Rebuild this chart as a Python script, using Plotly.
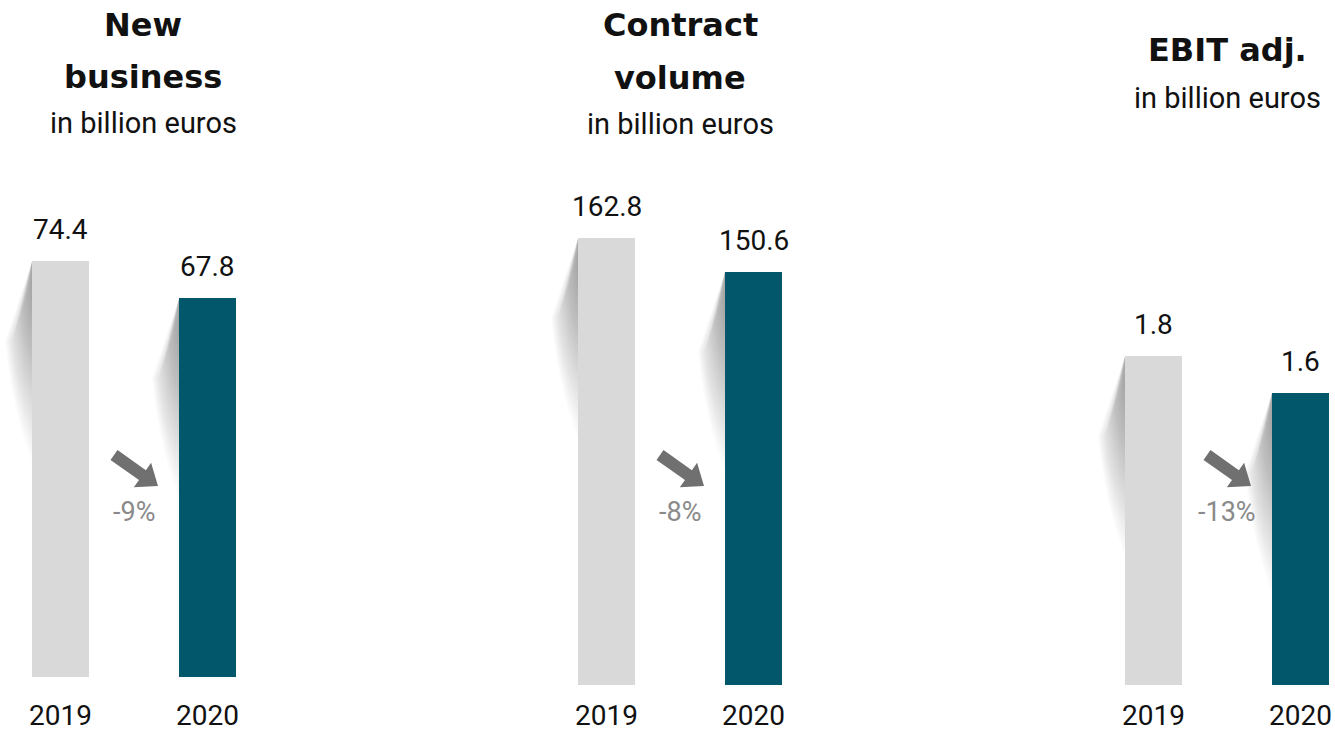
import numpy as np
import plotly.graph_objects as go

W, H = 1335, 731

# ---- data ----
titles = [["New", "business"], ["Contract", "volume"], ["EBIT adj."]]
subtitle = "in billion euros"
years = ["2019", "2020"]
values_2019 = [74.4, 162.8, 1.8]
values_2020 = [67.8, 150.6, 1.6]
value_labels_2019 = ["74.4", "162.8", "1.8"]
value_labels_2020 = ["67.8", "150.6", "1.6"]
changes = ["-9%", "-8%", "-13%"]

# ---- style ----
GRAY = "#d9d9d9"
TEAL = "#02586a"
ARROW = "#707070"
PCT = "#8a8a8a"
FONT = "Roboto"
TITLE_FONT = "DejaVu Sans"

# panel geometry (pixels)
bar_centers = [(60.5, 207.5), (606.5, 753.5), (1153.5, 1300.5)]
panel_px = [(0, 330), (400, 900), (950, 1335)]
baselines = [677, 685, 685]
px_per_unit = [416 / 74.4, 447 / 162.8, 329 / 1.8]
bar_px = 57
title_shift = [9, 0, 0]
title_rows = [[25, 77, 123], [25, 78, 124], [50, None, 98]]

fig = go.Figure()
shapes, annotations = [], []

for i in range(3):
    c0, c1 = bar_centers[i]
    step = c1 - c0
    dl, dr = panel_px[i]
    sfx = "" if i == 0 else str(i + 1)
    xa, ya = "x" + sfx, "y" + sfx
    base = baselines[i]
    vals = [values_2019[i], values_2020[i]]
    labels = [value_labels_2019[i], value_labels_2020[i]]
    bw = bar_px / step

    fig.add_trace(go.Bar(
        x=[0, 1], y=vals, width=bw,
        marker=dict(color=[GRAY, TEAL], line=dict(width=0)),
        xaxis=xa, yaxis=ya, hoverinfo="skip", showlegend=False,
    ))

    fig.update_layout(**{
        ("xaxis" + sfx): dict(domain=[dl / W, dr / W],
                              range=[(dl - c0) / step, (dr - c0) / step],
                              visible=False, fixedrange=True),
        ("yaxis" + sfx): dict(domain=[(H - base) / H, 1],
                              range=[0, base / px_per_unit[i]],
                              visible=False, fixedrange=True),
    })

    # soft curled shadow on the left edge of each bar:
    # stacked translucent wedges, densest near the top corner
    for k, v in enumerate(vals):
        xl = k - bw / 2
        for f in np.linspace(0.05, 1.0, 24):
            d = 27 * f
            end = 30 + 170 * f
            tip = 80 * min(1.0, 0.25 + f)
            path = (f"M0,0 L{-d:.1f},{-tip:.1f} "
                    f"Q{-d * 0.75:.1f},{-(tip + end) / 2 - 8:.1f} 0,{-end:.1f} Z")
            shapes.append(dict(
                type="path", xref=xa, yref=ya,
                xsizemode="pixel", ysizemode="pixel",
                xanchor=xl, yanchor=v, path=path,
                fillcolor="rgba(0,0,0,0.016)", line=dict(width=0),
                layer="below",
            ))

    # value labels
    for k, (v, t) in enumerate(zip(vals, labels)):
        annotations.append(dict(
            x=k, y=v, xref=xa, yref=ya, text=t, showarrow=False,
            yanchor="bottom", yshift=13,
            font=dict(family=FONT, size=28, color="#111111"),
        ))

    # year labels
    for k, yr in enumerate(years):
        annotations.append(dict(
            x=k, y=1 - 715 / H, xref=xa, yref="paper", text=yr,
            showarrow=False, yanchor="middle",
            font=dict(family=FONT, size=28, color="#111111"),
        ))

    # titles
    tx = 0.5 + title_shift[i] / step
    rows = title_rows[i]
    for j, line in enumerate(titles[i]):
        annotations.append(dict(
            x=tx, y=1 - rows[j] / H, xref=xa, yref="paper",
            text=f"<b>{line}</b>", showarrow=False, yanchor="middle",
            font=dict(family=TITLE_FONT, size=32, color="#111111"),
        ))
    annotations.append(dict(
        x=tx, y=1 - rows[2] / H, xref=xa, yref="paper", text=subtitle,
        showarrow=False, yanchor="middle",
        font=dict(family=FONT, size=29, color="#111111"),
    ))

    # change arrow
    tail = np.array([-20.0, 455.0])
    tipp = np.array([24.0, 486.0])
    ay = 470.0
    u = (tipp - tail) / np.linalg.norm(tipp - tail)
    n = np.array([-u[1], u[0]])
    hl, sw, hw = 19.0, 6.0, 15.0
    neck = tipp - u * hl
    pts = [tail + n * sw, neck + n * sw, neck + n * hw, tipp,
           neck - n * hw, neck - n * sw, tail - n * sw]
    path = "M" + " L".join(f"{p[0]:.1f},{ay - p[1]:.1f}" for p in pts) + " Z"
    shapes.append(dict(
        type="path", xref=xa, yref="paper",
        xsizemode="pixel", ysizemode="pixel",
        xanchor=0.5, yanchor=1 - ay / H, path=path,
        fillcolor=ARROW, line=dict(width=0),
    ))
    annotations.append(dict(
        x=0.5, y=1 - 512 / H, xref=xa, yref="paper", text=changes[i],
        showarrow=False, yanchor="middle",
        font=dict(family=FONT, size=27, color=PCT),
    ))

fig.update_layout(
    width=W, height=H,
    margin=dict(l=0, r=0, t=0, b=0),
    paper_bgcolor="white", plot_bgcolor="rgba(0,0,0,0)",
    shapes=shapes, annotations=annotations,
    bargap=0, showlegend=False,
)

fig.write_html("out.html")
